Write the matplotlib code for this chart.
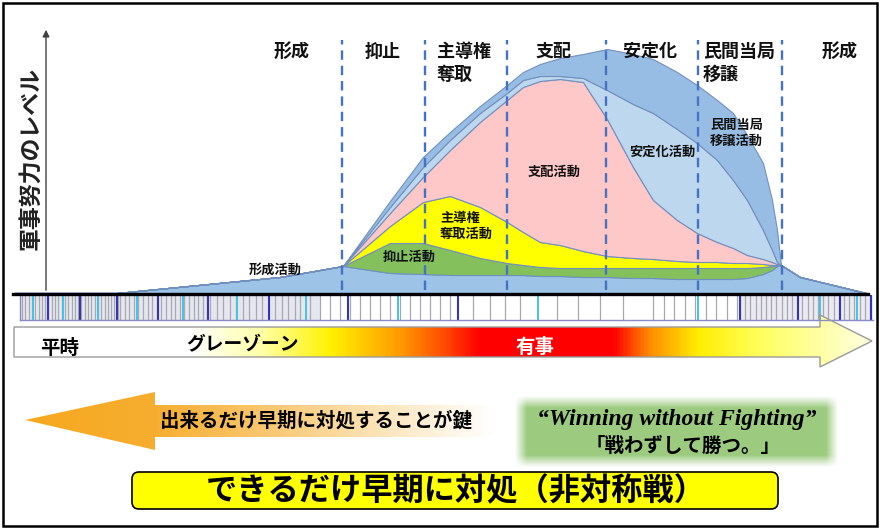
import numpy as np
import matplotlib
matplotlib.use('Agg')
import matplotlib.pyplot as plt
import matplotlib.patches as patches
from matplotlib.colors import LinearSegmentedColormap, to_rgba

plt.rcParams['font.family'] = ['Noto Sans CJK JP', 'DejaVu Sans']

# ---- データ ----
# 時間軸上の位置
t = [14, 117, 280, 343, 390, 423, 450, 480, 507, 523, 540, 560, 583, 607,
     633, 653, 677, 697, 717, 733, 747, 763, 772, 777, 781, 800, 866]

# 各活動の軍事努力レベル（下から積み上げ）
formation = [0, 0, 16, 27, 20, 19, 18, 18, 18, 18, 17, 17, 16, 16,
             15, 15, 14, 14, 14, 14, 15, 19, 23, 27, 28, 16, 0]
deterrence = [0, 0, 0, 0, 30, 31, 25, 17, 12, 10, 9, 8, 9, 9,
              10, 10, 11, 11, 11, 11, 10, 7, 4, 1, 0, 0, 0]
seize = [0, 0, 0, 0, 17, 41, 54, 51, 41, 33, 25, 23, 17, 12,
         10, 9, 7, 6, 6, 5, 5, 3, 1, 0, 0, 0, 0]
dominate = [0, 0, 0, 0, 13, 25, 46, 85, 122, 145, 161, 166, 169, 137,
            91, 59, 41, 29, 20, 15, 8, 5, 3, 1, 0, 0, 0]
stabilize = [0, 0, 0, 0, 6, 10, 10, 9, 7, 7, 5, 3, 4, 29,
             63, 87, 91, 90, 82, 68, 55, 29, 12, 2, 0, 0, 0]
civil = [0, 0, 0, 0, 6, 10, 8, 7, 8, 8, 12, 18, 24, 41,
         50, 54, 57, 58, 60, 67, 65, 67, 50, 32, 0, 0, 0]

layer_colors = ['#9DC3E6', '#84C15C', '#FFFF00', '#FEC8C8', '#BDD7EE', '#98BDE4']

# フェーズ境界と名称
phase_bounds = [342, 425, 507, 606, 698, 782]
phase_names = ['形成', '抑止', '主導権\n奪取', '支配', '安定化', '民間当局\n移譲', '形成']

# 時間帯の目盛り線
strip_dark = [48, 80, 117, 158, 208, 269, 348, 458, 740, 798, 840, 871]
strip_cyan = [33, 63, 98, 137, 183, 237, 306, 398, 538, 698, 820, 857]

W, H = 880, 531
fig = plt.figure(figsize=(W / 100, H / 100), dpi=100)
fig.patch.set_facecolor('white')

# ---- 積み上げ面グラフ ----
ax = fig.add_axes([14 / W, (H - 293) / H, 852 / W, 265 / H])
ax.stackplot(t, formation, deterrence, seize, dominate, stabilize, civil,
             colors=layer_colors, edgecolor='#7290BE', linewidth=0.8)
ax.vlines(phase_bounds, 3, 253, colors='#4472C4', linestyles=(0, (4, 2.5)),
          linewidth=1.7, zorder=5)
ax.set_xlim(14, 866)
ax.set_ylim(0, 265)
ax.axis('off')

# ---- 装飾用のオーバーレイ（ピクセル座標） ----
ov = fig.add_axes([0, 0, 1, 1])
ov.patch.set_alpha(0)

# 縦軸と基線
ov.annotate('', xy=(46, 27), xytext=(46, 293),
            arrowprops=dict(arrowstyle='-|>', color='#404040', lw=1, mutation_scale=10))
ov.text(31, 158, '軍事努力のレベル', rotation=90, ha='center', va='center',
        fontsize=16.5, fontweight='bold', color='#222222')

# フェーズ名
phase_pos = [(292, 'center'), (383, 'center'), (437, 'left'), (553, 'center'),
             (650, 'center'), (703, 'left'), (840, 'center')]
for (x, ha), name in zip(phase_pos, phase_names):
    ov.text(x, 42, name, ha=ha, va='top', fontsize=13, fontweight='bold',
            linespacing=1.25, color='#111111')

# 活動名
acts = [(275, 270, '形成活動', 'center'), (409, 257, '抑止活動', 'center'),
        (440, 226, '主導権\n奪取活動', 'left'), (554, 172, '支配活動', 'center'),
        (662, 152, '安定化活動', 'center'), (710, 133, '民間当局\n移譲活動', 'left')]
for x, y, s, ha in acts:
    ov.text(x, y, s, ha=ha, va='center', fontsize=9.5, fontweight='bold',
            linespacing=1.2, color='#111111', zorder=6)

# 時間帯の帯
ov.add_patch(patches.Rectangle((20, 295), 853, 25, facecolor='white',
                               edgecolor='none', zorder=1))
ov.add_patch(patches.Rectangle((20, 295), 300, 25, facecolor='#E6E6EE',
                               edgecolor='none', zorder=1))
ov.add_patch(patches.Rectangle((740, 295), 133, 25, facecolor='#EAEAF0',
                               edgecolor='none', zorder=1))
gray_lines = np.concatenate([np.arange(22, 120, 3.3), np.arange(120, 210, 4.6),
                             np.arange(210, 300, 6.5), np.arange(300, 460, 10),
                             [473, 490, 505, 520, 557, 578, 600, 623],
                             np.arange(653, 740, 10.5), np.arange(740, 873, 5.2)])
ov.vlines(gray_lines, 295, 320, colors='#A8A8B2', linewidth=0.9, zorder=2)
ov.vlines(strip_cyan, 295, 320, colors='#45C3E3', linewidth=1.4, zorder=3)
ov.vlines(strip_dark, 295, 320, colors='#3535B0', linewidth=1.5, zorder=3)
ov.plot([20, 873], [320, 320], color='#8A8AC8', lw=1, zorder=3)
ov.plot([20, 20], [295, 320], color='#8A8AC8', lw=1, zorder=3)
ov.plot([13, 868], [293.5, 293.5], color='black', lw=2.4, zorder=4)

# 平時→有事の矢印
stops = [(14, '#FFFFFF'), (190, '#FFFFFF'), (260, '#FFFFA8'), (330, '#FFF200'),
         (400, '#FF9A00'), (445, '#FF4A00'), (480, '#FF0000'), (615, '#FF0000'),
         (650, '#FF8A00'), (700, '#FFEE00'), (760, '#FFFF5A'), (872, '#FFFFE0')]
band = LinearSegmentedColormap.from_list('band', [((x - 14) / 858, c) for x, c in stops])
arrow_pts = [(14, 327), (820, 327), (820, 315), (872, 341), (820, 367), (820, 357), (14, 357)]
arrow = patches.Polygon(arrow_pts, closed=True, facecolor='none',
                        edgecolor='#9A9A9A', lw=1, zorder=3)
ov.add_patch(arrow)
im = ov.imshow(np.linspace(0, 1, 600).reshape(1, -1), cmap=band,
               extent=[14, 872, 367, 315], aspect='auto', interpolation='bilinear', zorder=2)
im.set_clip_path(arrow)
ov.text(60, 348, '平時', ha='center', va='center', fontsize=14, fontweight='bold')
ov.text(243, 344, 'グレーゾーン', ha='center', va='center', fontsize=13.5, fontweight='bold')
ov.text(535, 347, '有事', ha='center', va='center', fontsize=14, fontweight='bold',
        color='white')

# 左向きの矢印
left_pts = [(25, 420), (155, 392), (155, 405), (494, 405), (494, 437), (155, 437), (155, 450)]
left_arrow = patches.Polygon(left_pts, closed=True, facecolor='none', edgecolor='none')
ov.add_patch(left_arrow)
orange = LinearSegmentedColormap.from_list(
    'orange', [(0, '#F6A81E'), (0.28, '#F7AE30'), (0.55, '#F9CB7A'), (0.8, '#FCE9C6'), (1, '#FFFFFF')])
im2 = ov.imshow(np.linspace(0, 1, 400).reshape(1, -1), cmap=orange,
                extent=[25, 494, 450, 392], aspect='auto', interpolation='bilinear', zorder=2)
im2.set_clip_path(left_arrow)
ov.text(316, 421, '出来るだけ早期に対処することが鍵', ha='center', va='center',
        fontsize=14, fontweight='bold', zorder=3)

# 緑のボックス（縁をぼかす）
gx0, gx1, gy0, gy1 = 515, 838, 396, 467
nx, ny = gx1 - gx0, gy1 - gy0
xx = np.arange(nx) + 0.5
yy = np.arange(ny) + 0.5
fx = np.clip(np.minimum(xx, nx - xx) / 12, 0, 1)
fy = np.clip(np.minimum(yy, ny - yy) / 12, 0, 1)
green = np.zeros((ny, nx, 4))
green[..., :3] = to_rgba('#9CCB80')[:3]
green[..., 3] = np.outer(fy, fx)
ov.imshow(green, extent=[gx0, gx1, gy1, gy0], aspect='auto', zorder=2)
ov.text(677, 420, '“Winning without Fighting”', ha='center', va='center',
        family='Liberation Serif', style='italic', fontweight='bold', fontsize=17, zorder=3)
ov.text(683, 446, '「戦わずして勝つ。」', ha='center', va='center',
        fontsize=14, fontweight='bold', zorder=3)

# 黄色の結論ボックス
box = patches.FancyBboxPatch((132, 472), 646, 37, boxstyle='round,pad=0,rounding_size=7',
                             facecolor='#FFFF00', edgecolor='black', lw=1.2, zorder=2)
ov.add_patch(box)
ov.text(456, 491, 'できるだけ早期に対処（非対称戦）', ha='center', va='center',
        fontsize=22.5, fontweight='bold', zorder=3)

# 外枠
ov.add_patch(patches.Rectangle((3, 3), 874, 523, fill=False, edgecolor='black', lw=1.8, zorder=5))

ov.set_xlim(0, W)
ov.set_ylim(H, 0)
ov.axis('off')

fig.savefig('out.png', dpi=100)
